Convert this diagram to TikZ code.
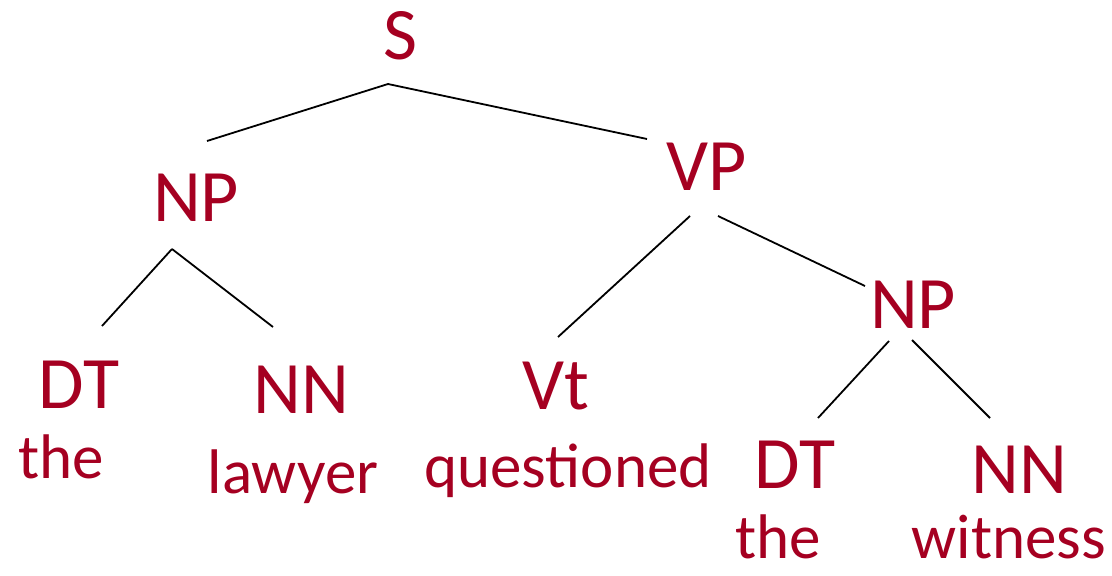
\documentclass[tikz,border=0pt]{standalone}
\usepackage{fontspec}
\setmainfont{Carlito}
\definecolor{treered}{RGB}{165,0,33}
\begin{document}
\begin{tikzpicture}[x=1pt, y=-1pt, line width=1.8pt,
  tag/.style={text=treered, anchor=base, inner sep=0pt, font=\fontsize{74}{80}\selectfont},
  word/.style={text=treered, anchor=base, inner sep=0pt, font=\fontsize{63}{68}\selectfont}]
\useasboundingbox (0,0) rectangle (1112,576);
% categories
\node [tag](s) at (400,59) {S};
\node [tag](np1) at (196,221) {NP};
\node [tag](vp) at (707,190) {VP};
\node [tag](dt1) at (79,408) {DT};
\node [tag](nn1) at (301,413) {NN};
\node [tag](vt) at (556,409) {Vt};
\node [tag](np2) at (913,328) {NP};
\node [tag](dt2) at (795,488) {DT};
\node [tag](nn2) at (1019,493) {NN};
% words
\node [word](w1) at (61,478) {the};
\node [word](w2) at (293,493) {lawyer};
\node [word](w3) at (568,487) {questioned};
\node [word](w4) at (778,558) {the};
\node [word](w5) at (1009,558) {witness};
% branch ends
\coordinate (s-foot) at (388,84);
\coordinate (np1-head) at (207,141);
\coordinate (vp-head) at (647,139);
\coordinate (np1-foot) at (172,249);
\coordinate (dt1-head) at (102,326);
\coordinate (nn1-head) at (273,327);
\coordinate (vp-footl) at (690,216);
\coordinate (vp-footr) at (718,216);
\coordinate (vt-head) at (558,337);
\coordinate (np2-head) at (865,286);
\coordinate (np2-footl) at (889,341);
\coordinate (np2-footr) at (912,340);
\coordinate (dt2-head) at (818,418);
\coordinate (nn2-head) at (990,418);
\path
	(s-foot) edge (np1-head)
	         edge (vp-head)
	(np1-foot) edge (dt1-head)
	           edge (nn1-head)
	(vp-footl) edge (vt-head)
	(vp-footr) edge (np2-head)
	(np2-footl) edge (dt2-head)
	(np2-footr) edge (nn2-head)
	;
\end{tikzpicture}
\end{document}
